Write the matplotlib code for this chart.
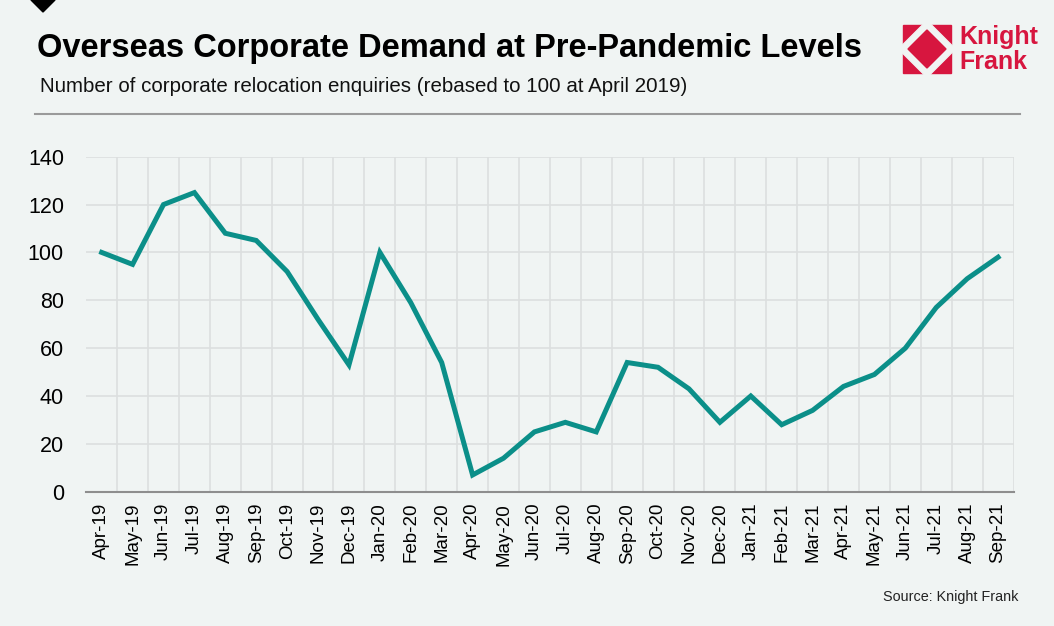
import matplotlib
matplotlib.use("Agg")
import matplotlib.pyplot as plt
from matplotlib.patches import Polygon
from matplotlib.lines import Line2D

plt.rcParams['font.family'] = ['Liberation Sans', 'DejaVu Sans']

months = ['Apr-19', 'May-19', 'Jun-19', 'Jul-19', 'Aug-19', 'Sep-19', 'Oct-19',
          'Nov-19', 'Dec-19', 'Jan-20', 'Feb-20', 'Mar-20', 'Apr-20', 'May-20',
          'Jun-20', 'Jul-20', 'Aug-20', 'Sep-20', 'Oct-20', 'Nov-20', 'Dec-20',
          'Jan-21', 'Feb-21', 'Mar-21', 'Apr-21', 'May-21', 'Jun-21', 'Jul-21',
          'Aug-21', 'Sep-21']
enquiries = [100, 95, 120, 125, 108, 105, 92, 72, 53, 100, 79, 54, 7, 14,
             25, 29, 25, 54, 52, 43, 29, 40, 28, 34, 44, 49, 60, 77, 89, 98]
y_ticks = [0, 20, 40, 60, 80, 100, 120, 140]

bg = '#f0f4f3'
teal = '#0b8f89'
kf_red = '#d7163f'
W, H = 1054, 626

fig = plt.figure(figsize=(10.54, 6.26), dpi=100, facecolor=bg)
ax = fig.add_axes([0.0818, 0.2145, 0.8798, 0.5352], facecolor=bg)

x = list(range(len(months)))
ax.plot(x, enquiries, color=teal, lw=3.6, solid_joinstyle='miter', zorder=3)

ax.set_xlim(-0.5, len(months) - 0.5)
ax.set_ylim(0, 140)
ax.set_yticks(y_ticks)
ax.set_xticks(x)
ax.set_xticklabels(months, rotation=90, fontsize=13.5)
ax.set_xticks([i + 0.5 for i in x], minor=True)
ax.tick_params(axis='y', labelsize=15.5, length=0, pad=16)
ax.tick_params(axis='x', which='both', length=0, pad=8)
ax.grid(axis='y', color='#dcdfdf', lw=1.2)
ax.grid(axis='x', which='minor', color='#dcdfdf', lw=1.2)
ax.grid(axis='x', which='major', visible=False)
ax.set_axisbelow(True)
for s in ['top', 'right', 'left']:
    ax.spines[s].set_visible(False)
ax.spines['bottom'].set_color('#8e8e8e')
ax.spines['bottom'].set_linewidth(1.5)

# header
fig.text(37 / W, 1 - 49 / H, 'Overseas Corporate Demand at Pre-Pandemic Levels',
         fontsize=23.5, fontweight='bold', va='center', ha='left', color='#000000')
fig.text(40 / W, 1 - 87 / H, 'Number of corporate relocation enquiries (rebased to 100 at April 2019)',
         fontsize=14.8, va='center', ha='left', color='#111111')
fig.add_artist(Line2D([35 / W, 1020 / W], [1 - 114 / H] * 2,
                      color='#9a9a9a', lw=1.5, transform=fig.transFigure))
fig.text(1018 / W, 1 - 597 / H, 'Source: Knight Frank', fontsize=10.4,
         ha='right', va='center', color='#222222')

def px(pts):
    return [(a / W, 1 - b / H) for a, b in pts]

# black diamond marker top-left
fig.add_artist(Polygon(px([(31, 0), (43, -12), (55, 0), (43, 12)]),
                       closed=True, color='black', transform=fig.transFigure))

# logo
x0, y0, s = 903, 25, 48
cx, cy = x0 + s / 2, y0 + s / 2
fig.add_artist(Polygon(px([(x0, y0), (x0 + s, y0), (x0 + s, y0 + s), (x0, y0 + s)]),
                       closed=True, color=kf_red, transform=fig.transFigure))
r1 = s / 2 + 4.5
fig.add_artist(Polygon(px([(cx, cy - r1), (cx + r1, cy), (cx, cy + r1), (cx - r1, cy)]),
                       closed=True, color=bg, transform=fig.transFigure))
r2 = s / 2 - 5
fig.add_artist(Polygon(px([(cx, cy - r2), (cx + r2, cy), (cx, cy + r2), (cx - r2, cy)]),
                       closed=True, color=kf_red, transform=fig.transFigure))
fig.text(959 / W, 1 - 37 / H, 'Knight', fontsize=18, fontweight='bold', color=kf_red,
         ha='left', va='center')
fig.text(959 / W, 1 - 62 / H, 'Frank', fontsize=18, fontweight='bold', color=kf_red,
         ha='left', va='center')

fig.savefig('out.png', dpi=100, facecolor=bg)
